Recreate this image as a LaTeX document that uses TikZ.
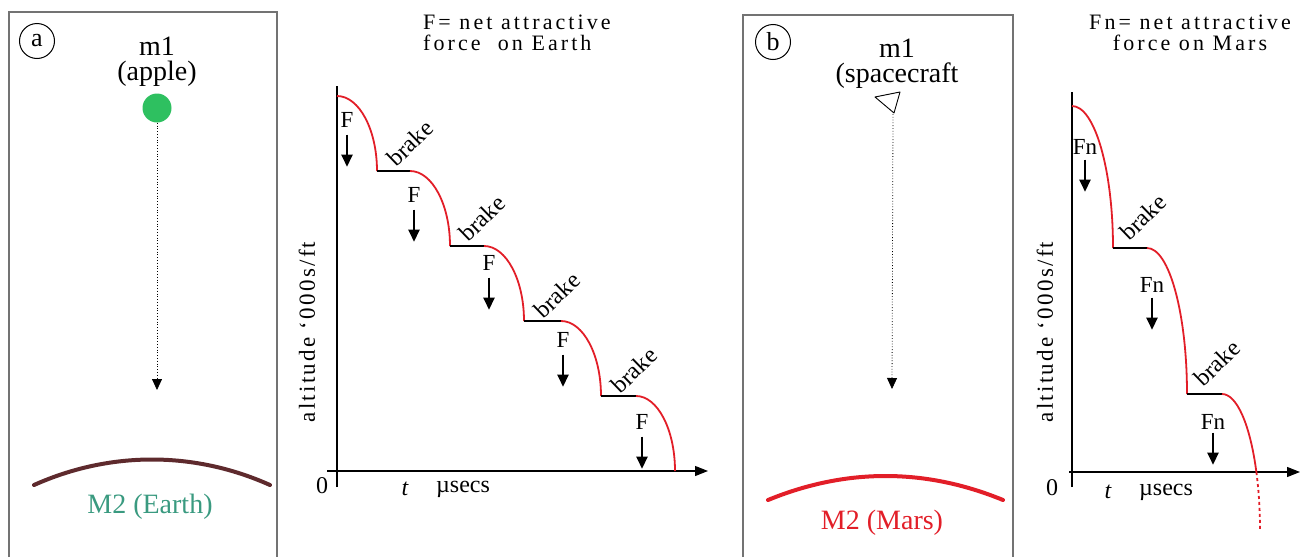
\documentclass[tikz,border=0pt]{standalone}
\usepackage{fontspec}
\setmainfont{Liberation Serif}
\newfontfamily\spaced[LetterSpace=14]{Liberation Serif}
\newfontfamily\axisfont[LetterSpace=10]{Liberation Serif}
\usetikzlibrary{arrows.meta, positioning, calc}
\definecolor{applegreen}{RGB}{46,192,96}
\definecolor{earthbrown}{RGB}{94,42,45}
\definecolor{earthtext}{RGB}{58,154,128}
\definecolor{marsred}{RGB}{226,30,40}

\begin{document}
\begin{tikzpicture}[
  x=1pt, y=-1pt,
  panel/.style={draw=black!55, line width=1.3pt},
  tag/.style={draw, circle, line width=1pt, minimum size=35pt, inner sep=0pt, font=\fontsize{26}{26}\selectfont},
  body/.style={align=center, inner sep=0pt, font=\fontsize{28}{25}\selectfont},
  ttl/.style={inner sep=0pt, font=\spaced\fontsize{22}{21}\selectfont},
  ylbl/.style={inner sep=0pt, rotate=90, font=\axisfont\fontsize{23}{23}\selectfont},
  t/.style={inner sep=0pt, font=\fontsize{24}{24}\selectfont},
  fl/.style={inner sep=0pt, font=\fontsize{23}{23}\selectfont},
  brk/.style={inner sep=0pt, rotate=44, font=\fontsize{24}{24}\selectfont},
  axis/.style={line width=1.1pt},
  drop/.style={draw=marsred, line width=1.8pt},
  hold/.style={line width=1.8pt},
  fall/.style={dotted, line width=0.8pt, -{Triangle[width=10pt,length=11pt]}},
  farrow/.style={line width=2.2pt, -{Triangle[width=11pt,length=12pt]}}
]
\useasboundingbox (0,0) rectangle (1301,557);

% Panel a: apple falling to Earth
\draw[panel] (9,557) -- (9,12) -- (277,12) -- (277,557);
\node[tag] (taga) at (37,41) {a};
\node[body] (m1a) at (157,62) {m1\\(apple)};
\node[circle, fill=applegreen, minimum size=29pt, inner sep=0pt] (apple) at (157,108) {};
\coordinate (hita) at (157,390);
\draw[fall] (apple) -- (hita);
\draw[draw=earthbrown, line width=4pt, line cap=round] (34,485) .. controls (110,451) and (194,451) .. (270,485);
\node[body, text=earthtext] (eartha) at (150,507) {M2 (Earth)};

% Plot a
\node[ttl, anchor=west, align=left] (ttla) at (423,33) {F= net attractive\\force \ on Earth};
\draw[axis] (337,487) -- (337,86);
\draw[axis, -{Triangle[width=10pt,length=13pt]}] (327,471) -- (708,471);
\node[t] (zeroa) at (322,486) {0};
\node[t] (ta) at (405,489) {\itshape t};
\node[t] (usa) at (463,489) {µsecs};
\node[ylbl] (alta) at (307,332) {altitude ‘000s/ft};

% Staircase a
\draw[drop] (337,96) arc[start angle=90, end angle=0, x radius=40pt, y radius=75pt];
\draw[hold] (377,171) -- (410,171);
\draw[drop] (410,171) arc[start angle=90, end angle=0, x radius=40pt, y radius=75pt];
\draw[hold] (450,246) -- (484,246);
\draw[drop] (484,246) arc[start angle=90, end angle=0, x radius=40pt, y radius=75pt];
\draw[hold] (524,321) -- (561,321);
\draw[drop] (561,321) arc[start angle=90, end angle=0, x radius=40pt, y radius=75pt];
\draw[hold] (601,396) -- (636,396);
\draw[drop] (636,396) arc[start angle=90, end angle=0, x radius=39pt, y radius=75pt];

% Force labels a
\node[fl] (fa1) at (347,120) {F};
\node[fl] (fa2) at (414,195) {F};
\node[fl] (fa3) at (489,263) {F};
\node[fl] (fa4) at (563,340) {F};
\node[fl] (fa5) at (642,422) {F};
\draw[farrow] ([yshift=-7pt]fa1.south) -- ++(0,32);
\draw[farrow] ([yshift=-7pt]fa2.south) -- ++(0,32);
\draw[farrow] ([yshift=-7pt]fa3.south) -- ++(0,32);
\draw[farrow] ([yshift=-7pt]fa4.south) -- ++(0,32);
\draw[farrow] ([yshift=-7pt]fa5.south) -- ++(0,32);

\node[brk] (ba1) at (410,143) {brake};
\node[brk] (ba2) at (482,218) {brake};
\node[brk] (ba3) at (557,295) {brake};
\node[brk] (ba4) at (634,370) {brake};

% Panel b: spacecraft falling to Mars
\draw[panel] (743,557) -- (743,15) -- (1013,15) -- (1013,557);
\node[tag] (tagb) at (773,42) {b};
\node[body] (m1b) at (897,64) {m1\\(spacecraft};
\draw[line width=0.9pt, line join=round] (875,97) -- (900,92) -- (894,113) -- cycle;
\coordinate (craft) at (893,114);
\coordinate (hitb) at (892,389);
\draw[fall] (craft) -- (hitb);
\draw[draw=marsred, line width=4pt, line cap=round] (768,500) .. controls (846,468) and (925,468) .. (1003,500);
\node[body, text=marsred] (marsb) at (882,523) {M2 (Mars)};

% Plot b
\node[ttl, align=center] (ttlb) at (1190,33) {Fn= net attractive\\force on Mars};
\draw[axis] (1072,487) -- (1072,92);
\draw[axis, -{Triangle[width=10pt,length=13pt]}] (1069,472) -- (1300,472);
\node[t] (zerob) at (1052,488) {0};
\node[t] (tb) at (1108,492) {\itshape t};
\node[t] (usb) at (1166,492) {µsecs};
\node[ylbl] (altb) at (1045,332) {altitude ‘000s/ft};

% Staircase b
\draw[drop] (1072,106) arc[start angle=90, end angle=0, x radius=41pt, y radius=142pt];
\draw[hold] (1113,248) -- (1147,248);
\draw[drop] (1147,248) arc[start angle=90, end angle=0, x radius=40pt, y radius=146pt];
\draw[hold] (1187,394) -- (1222,394);
\draw[drop] (1222,394) arc[start angle=90, end angle=25.2, x radius=38pt, y radius=136pt] coordinate (cut);
\draw[drop, dashed] (cut) arc[start angle=25.2, end angle=0, x radius=38pt, y radius=136pt];

% Force labels b
\node[fl] (fb1) at (1085,147) {Fn};
\node[fl] (fb2) at (1152,285) {Fn};
\node[fl] (fb3) at (1213,422) {Fn};
\draw[farrow] ([yshift=-5pt]fb1.south) -- ++(0,32);
\draw[farrow] ([yshift=-5pt]fb2.south) -- ++(0,32);
\draw[farrow] ([yshift=-3pt]fb3.south) -- ++(0,32);

\node[brk] (bb1) at (1143,217) {brake};
\node[brk] (bb2) at (1217,363) {brake};

\end{tikzpicture}
\end{document}
